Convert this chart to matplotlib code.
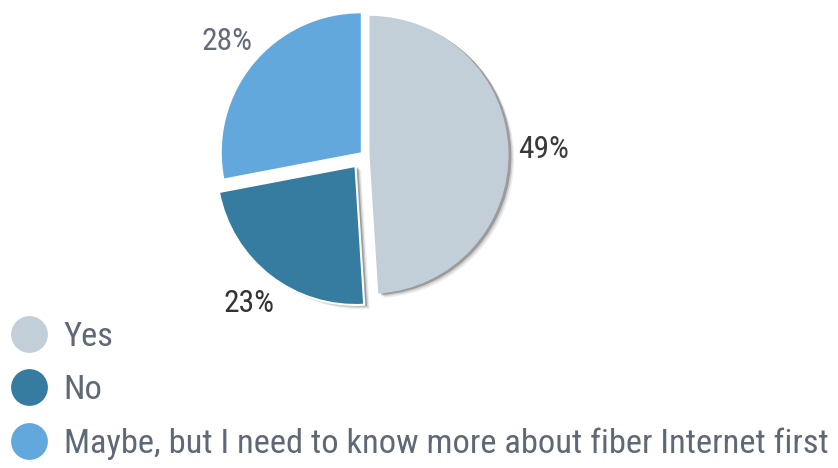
import matplotlib
matplotlib.use("Agg")
import matplotlib.pyplot as plt
import matplotlib.patheffects as pe
from matplotlib import font_manager

# data
labels = ["Yes", "No", "Maybe, but I need to know more about fiber Internet first"]
values = [49, 23, 28]
colors = ["#c2ced8", "#357ca0", "#62a8dc"]
explode = [0.04, 0.10, 0.03]
pct_colors = ["#3a3a3a", "#333333", "#636b78"]

# try to find a narrow font, the original uses a condensed face
names = set(f.name for f in font_manager.fontManager.ttflist)
fam = "DejaVu Sans"
stretch = "normal"
for cand in ["Roboto Condensed", "Liberation Sans Narrow", "Open Sans Condensed", "Noto Sans Condensed"]:
    if cand in names:
        fam = cand
        break
else:
    for f in font_manager.fontManager.ttflist:
        if f.name == "DejaVu Sans" and "ondensed" in f.fname:
            stretch = "condensed"
            break
    else:
        fam = "Liberation Sans"

plt.rcParams["font.family"] = [fam, "DejaVu Sans"]
plt.rcParams["font.stretch"] = stretch

W, H = 838, 468
fig = plt.figure(figsize=(W / 100, H / 100), dpi=100)

cx, cy, r = 364, 155, 139
half = 1.5 * r
ax = fig.add_axes([(cx - half) / W, (H - cy - half) / H, 2 * half / W, 2 * half / H])

wedges, texts, autotexts = ax.pie(values, colors=colors, explode=explode, startangle=90,
                                  counterclock=False, autopct="%d%%", pctdistance=1.25,
                                  radius=1, frame=False)
ax.set_xlim(-1.5, 1.5)
ax.set_ylim(-1.5, 1.5)
ax.set_aspect("equal")
ax.axis("off")

shadow = [pe.SimplePatchShadow(offset=(4, -3), shadow_rgbFace="k", alpha=0.07),
          pe.SimplePatchShadow(offset=(3, -2), shadow_rgbFace="k", alpha=0.12),
          pe.SimplePatchShadow(offset=(2, -1), shadow_rgbFace="k", alpha=0.25),
          pe.Normal()]
wedges[0].set_path_effects(shadow)
wedges[1].set_edgecolor("white")
wedges[1].set_linewidth(1.5)
wedges[1].set_path_effects(shadow)

# sizes from text widths
fig.canvas.draw()
rend = fig.canvas.get_renderer()

def fit_size(txt, target):
    t = fig.text(0, 0, txt, fontsize=20)
    w = t.get_window_extent(rend).width
    t.remove()
    return 20 * target / w

pct_size = fit_size("49%", 51)
for t, c in zip(autotexts, pct_colors):
    t.set_fontsize(pct_size)
    t.set_color(c)

leg_size = fit_size(labels[2], 762)
handles = [plt.Line2D([], [], marker="o", linestyle="none", markersize=27.5,
                      markerfacecolor=c, markeredgecolor="white", markeredgewidth=1)
           for c in colors]
leg = fig.legend(handles, labels, loc="upper left", bbox_to_anchor=(10 / W, 1 - 321 / H),
                 frameon=False, fontsize=leg_size, labelcolor="#5f6875",
                 handlelength=1.09, handletextpad=0.47, labelspacing=0.62,
                 borderaxespad=0, borderpad=0)

fig.savefig("out.png", dpi=100)
